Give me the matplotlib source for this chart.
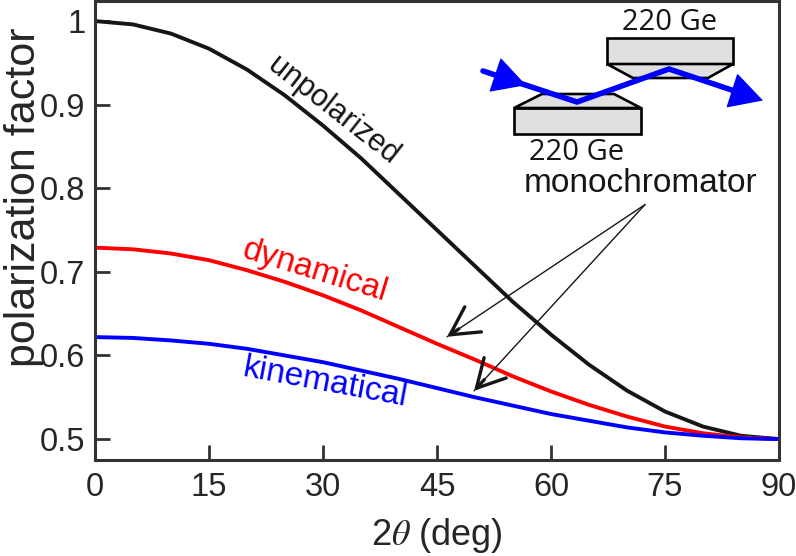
import numpy as np
import matplotlib.pyplot as plt
from matplotlib.patches import Polygon

plt.rcParams['font.family'] = ['Liberation Sans', 'DejaVu Sans']
plt.rcParams['mathtext.fontset'] = 'stix'

# values, every 5 deg of 2theta
two_theta = [0, 5, 10, 15, 20, 25, 30, 35, 40, 45, 50, 55, 60, 65, 70, 75, 80, 85, 90]
unpolarized = [1.000, 0.996, 0.985, 0.967, 0.942, 0.911, 0.875, 0.836, 0.793, 0.750,
               0.707, 0.664, 0.625, 0.589, 0.558, 0.533, 0.515, 0.504, 0.500]
dynamical = [0.729, 0.727, 0.722, 0.714, 0.702, 0.688, 0.672, 0.654, 0.634, 0.614,
             0.595, 0.575, 0.557, 0.541, 0.527, 0.515, 0.507, 0.502, 0.500]
kinematical = [0.622, 0.621, 0.618, 0.614, 0.608, 0.600, 0.592, 0.582, 0.572, 0.561,
               0.550, 0.540, 0.530, 0.522, 0.514, 0.508, 0.504, 0.501, 0.500]

x_ticks = [0, 15, 30, 45, 60, 75, 90]
y_ticks = [0.5, 0.6, 0.7, 0.8, 0.9, 1.0]
y_tick_labels = ['0.5', '0.6', '0.7', '0.8', '0.9', '1']

fig = plt.figure(figsize=(7.96, 5.56), dpi=100)
ax = fig.add_axes([95/796, 96/556, 684/796, 459/556])

ax.plot(two_theta, unpolarized, color='#161616', lw=2.8, solid_capstyle='butt')
ax.plot(two_theta, dynamical, color='#ff0000', lw=2.8, solid_capstyle='butt')
ax.plot(two_theta, kinematical, color='#0000ff', lw=2.8, solid_capstyle='butt')

ax.set_xlim(0, 90)
ax.set_ylim(0.475, 1.024)
ax.set_xticks(x_ticks)
ax.set_yticks(y_ticks)
ax.set_yticklabels(y_tick_labels)

spine_col = '#333333'
for s in ax.spines.values():
    s.set_color(spine_col)
    s.set_linewidth(2.2)
ax.tick_params(direction='in', length=11, width=2, color=spine_col,
               labelsize=23.5, labelcolor='#262626')
ax.tick_params(axis='x', pad=9)
ax.tick_params(axis='y', pad=7)

ax.set_xlabel(r'2$\theta$ (deg)', fontsize=26, color='#262626', va='top')
ax.set_ylabel('polarization factor', fontsize=31, color='#262626')
ax.xaxis.set_label_coords(0.5, -0.122)
ax.yaxis.set_label_coords(-0.075, 0.572)

# curve labels
ax.text(31.4, 0.893, 'unpolarized', fontsize=22, color='#161616', rotation=-38,
        ha='center', va='center', rotation_mode='anchor')
ax.text(28.9, 0.701, 'dynamical', fontsize=24, color='#ff0000', rotation=-17,
        ha='center', va='center', rotation_mode='anchor')
ax.text(30.3, 0.567, 'kinematical', fontsize=24, color='#0000ff', rotation=-10.5,
        ha='center', va='center', rotation_mode='anchor')

ax.text(71.8, 0.795, 'monochromator', fontsize=24, color='#161616',
        ha='center', va='baseline')

# arrows: thin shaft, thick open head
arr_start = (72.37, 0.7805)
arr_ends = [(46.32, 0.6224), (49.87, 0.5577)]
for ex, ey in arr_ends:
    ax.annotate('', xy=(ex, ey), xytext=arr_start,
                arrowprops=dict(arrowstyle='-', lw=1.0, color='#161616',
                                shrinkA=0, shrinkB=0))
    dx, dy = arr_start[0] - ex, arr_start[1] - ey
    ax.annotate('', xy=(ex, ey), xytext=(ex + dx*0.06, ey + dy*0.06),
                arrowprops=dict(arrowstyle='->,head_length=1.0,head_width=0.54',
                                lw=2.4, color='#161616', mutation_scale=20,
                                shrinkA=0, shrinkB=0))

# inset sketch of the double crystal monochromator (pixel-like coords)
ai = fig.add_axes([470/796, 1 - 150/556, 310/796, 150/556])
ai.set_xlim(470, 780)
ai.set_ylim(150, 0)
ai.axis('off')
ai.patch.set_alpha(0)

gray = '#e0e0e0'
crystals = [
    [(514, 108), (641, 108), (641, 134), (514, 134)],
    [(514, 108), (542, 94), (614, 94), (641, 108)],
    [(607, 38), (733, 38), (733, 64), (607, 64)],
    [(607, 64), (733, 64), (708, 78), (633, 78)],
]
for verts in crystals:
    ai.add_patch(Polygon(verts, closed=True, facecolor=gray, edgecolor='black',
                         lw=1.9, joinstyle='miter'))

beam_x = [483, 577, 669, 745]
beam_y = [71, 102, 69, 94.5]
ai.plot(beam_x, beam_y, color='#0000ff', lw=4.0, solid_capstyle='round',
        solid_joinstyle='miter')
ai.annotate('', xy=(526, 85.2), xytext=(500, 76.5),
            arrowprops=dict(arrowstyle='-|>,head_length=1.1,head_width=0.6',
                            lw=1, color='#0000ff', mutation_scale=20,
                            shrinkA=0, shrinkB=0))
ai.annotate('', xy=(763, 100.5), xytext=(735, 91.5),
            arrowprops=dict(arrowstyle='-|>,head_length=1.1,head_width=0.6',
                            lw=1, color='#0000ff', mutation_scale=20,
                            shrinkA=0, shrinkB=0))

ai.text(670, 22, '220 Ge', fontsize=21, family='Open Sans', color='#161616',
        ha='center', va='center')
ai.text(577, 152, '220 Ge', fontsize=21, family='Open Sans', color='#161616',
        ha='center', va='center')

fig.savefig('out.png', dpi=100)
